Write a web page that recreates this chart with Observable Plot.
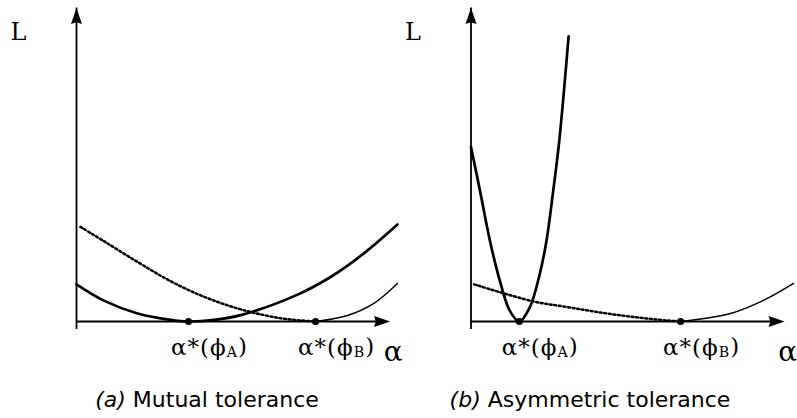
<!DOCTYPE html>
<html>
<head>
<meta charset="utf-8">
<script src="https://cdn.jsdelivr.net/npm/d3@7"></script>
<script src="https://cdn.jsdelivr.net/npm/@observablehq/plot@0.6"></script>
<style>
  html, body { margin: 0; padding: 0; background: #fff; }
  #wrap { position: relative; width: 797px; height: 418px; overflow: hidden; background: #fff; }
  .panel { position: absolute; top: 0; }
  .cap { position: absolute; top: 389px; font-family: "DejaVu Sans", sans-serif; font-size: 22px;
         line-height: 22px; white-space: nowrap; transform: translateX(-50%); color: #000; }
  .cap i { font-style: italic; }
</style>
</head>
<body>
<div id="wrap"></div>
<script>
// ---------- data (α, L) ----------
const AXIS_MAX = 9.8;

// (a) Mutual tolerance
const mutualSolid  = [[0,1.16],[0.84,0.66],[1.91,0.25],[2.94,0.05],[3.5,0],[4.3,0.05],[5.13,0.2],[6.91,0.84],[7.94,1.39],[8.97,2.12],[10.03,3.03]];
const mutualDotted = [[0.12,2.96],[0.84,2.52],[1.91,1.86],[2.94,1.26],[3.97,0.78],[5.13,0.38],[6.38,0.1],[7.47,0]];
const mutualThin   = [[7.47,0],[8.47,0.19],[9.28,0.56],[10.03,1.19]];
const mutualOptima = [3.5, 7.47];

// (b) Asymmetric tolerance
const asymSolid  = [[0,5.45],[0.28,4.09],[0.59,2.53],[0.9,1.28],[1.21,0.34],[1.51,0],[1.84,0.45],[2.15,1.49],[2.36,2.53],[2.57,4.09],[2.76,5.66],[3.05,8.91]];
const asymDotted = [[0.1,1.16],[1.94,0.63],[3.02,0.45],[4.05,0.28],[5.08,0.14],[6.14,0.03],[6.55,0]];
const asymThin   = [[6.55,0],[8.11,0.25],[9.14,0.66],[10.08,1.19]];
const asymOptima = [1.51, 6.55];

const optimumLabels = ["α*(ϕ_A)", "α*(ϕ_B)"];
const xLabel = "α";
const yLabel = "L";
const captionTags = ["(a)", "(b)"];
const captionTexts = ["Mutual tolerance", "Asymmetric tolerance"];

// ---------- drawing ----------
const SERIF = "'DejaVu Serif', 'Liberation Serif', serif";

// filled arrowhead pointing up, tip at origin
const stealth = {
  draw(ctx) {
    ctx.moveTo(0, 0);
    ctx.lineTo(5.5, 16);
    ctx.lineTo(0, 14.3);
    ctx.lineTo(-5.5, 16);
    ctx.closePath();
  }
};

function panel(solid, dotted, thin, optima, left, width, marginLeft) {
  const svg = Plot.plot({
    width, height: 370,
    marginLeft, marginRight: width - marginLeft - 320,
    marginTop: 1, marginBottom: 49,
    x: {domain: [0, 10], axis: null},
    y: {domain: [0, 10], axis: null},
    style: {overflow: "visible", background: "transparent"},
    marks: [
      Plot.ruleY([0], {x1: 0, x2: AXIS_MAX, stroke: "black", strokeWidth: 1.8, insetRight: 8}),
      Plot.ruleX([0], {y1: 0, y2: AXIS_MAX, stroke: "black", strokeWidth: 1.8, insetTop: 8}),
      Plot.dot([[AXIS_MAX, 0]], {symbol: stealth, rotate: 90, fill: "black", stroke: "none"}),
      Plot.dot([[0, AXIS_MAX]], {symbol: stealth, rotate: 0, fill: "black", stroke: "none"}),
      Plot.line(dotted, {curve: "catmull-rom", stroke: "black", strokeWidth: 2.5, strokeDasharray: "2,2.6"}),
      Plot.line(thin, {curve: "catmull-rom", stroke: "black", strokeWidth: 1.5}),
      Plot.line(solid, {curve: "catmull-rom", stroke: "black", strokeWidth: 2.7}),
      Plot.dot(optima, {x: d => d, y: 0, r: 3.6, fill: "black", stroke: "none"}),
      Plot.text(optima, {x: d => d, y: 0, text: (d, i) => optimumLabels[i], dx: 21, dy: 26,
        fontSize: 23, fontFamily: SERIF, fill: "black", textAnchor: "middle"}),
      Plot.text([xLabel], {x: AXIS_MAX, y: 0, text: d => d, dx: 3, dy: 31,
        fontSize: 28, fontFamily: SERIF, fill: "black", textAnchor: "middle"}),
      Plot.text([yLabel], {x: 0, y: AXIS_MAX, text: d => d, dx: -58, dy: 24,
        fontSize: 24, fontFamily: SERIF, fill: "black", textAnchor: "middle"})
    ]
  });
  // subscripts for labels written as "base_sub)"
  d3.select(svg).selectAll("text").each(function () {
    const t = this.textContent;
    if (!t.includes("_")) return;
    const m = t.match(/^(.*)_(.)(.*)$/);
    const el = d3.select(this).attr("letter-spacing", "1px");
    el.text(null);
    el.append("tspan").text(m[1]);
    el.append("tspan").attr("font-size", "0.62em").attr("dy", "0.12em").text(m[2]);
    el.append("tspan").attr("dy", "-0.12em").text(m[3]);
  });
  const div = document.createElement("div");
  div.className = "panel";
  div.style.left = left + "px";
  div.appendChild(svg);
  document.getElementById("wrap").appendChild(div);
}

panel(mutualSolid, mutualDotted, mutualThin, mutualOptima, 0, 398, 76);
panel(asymSolid, asymDotted, asymThin, asymOptima, 398, 399, 72.5);

const capCenters = [207, 590];
captionTags.forEach((tag, i) => {
  const c = document.createElement("div");
  c.className = "cap";
  c.style.left = capCenters[i] + "px";
  const it = document.createElement("i");
  it.textContent = tag;
  c.appendChild(it);
  c.appendChild(document.createTextNode(" " + captionTexts[i]));
  document.getElementById("wrap").appendChild(c);
});
</script>
</body>
</html>
